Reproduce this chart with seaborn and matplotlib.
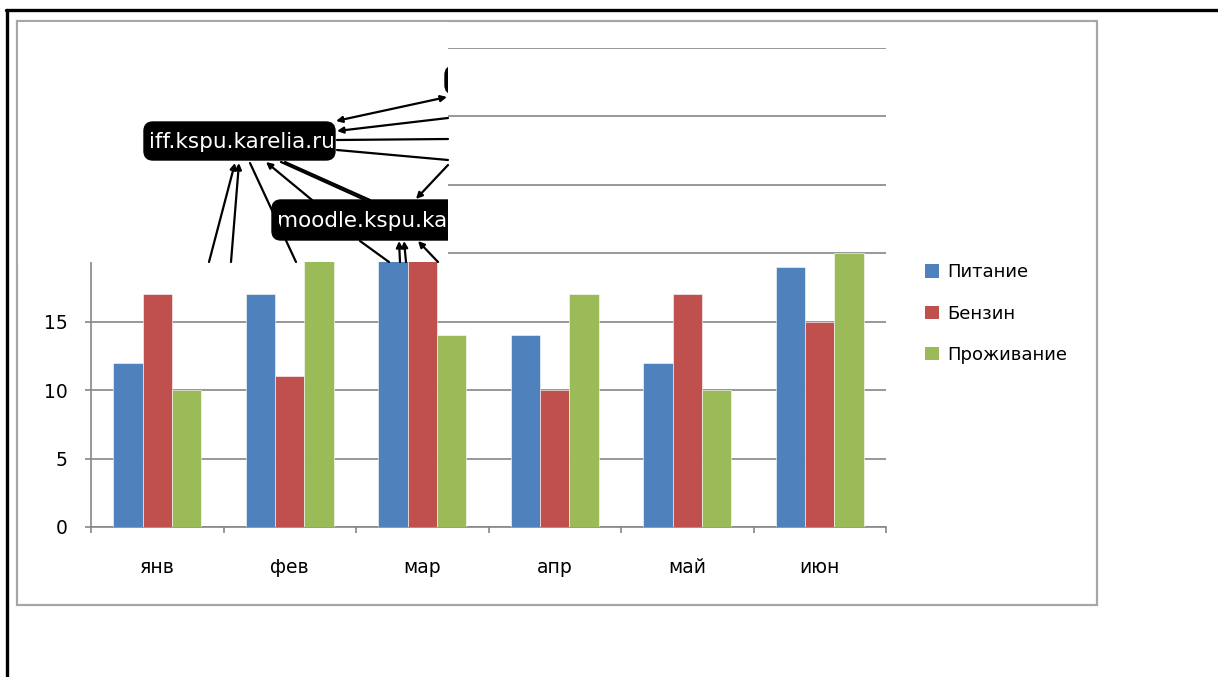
import numpy as np
import pandas as pd
import matplotlib
matplotlib.use("Agg")
import matplotlib.pyplot as plt
import seaborn as sns
from matplotlib.patches import Patch, Rectangle, FancyBboxPatch
from matplotlib.lines import Line2D

# chart data
months = ["янв", "фев", "мар", "апр", "май", "июн"]
series = ["Питание", "Бензин", "Проживание"]
pitanie = [12, 17, 22, 14, 12, 19]       # мар top hidden under the pasted picture
benzin = [17, 11, 21, 10, 17, 15]        # мар top hidden
prozhivanie = [10, 23, 14, 17, 10, 20]   # фев top hidden
colors = ["#4F81BD", "#C0504D", "#9BBB59"]
y_ticks = [0, 5, 10, 15, 20, 25, 30, 35]

df = pd.DataFrame({
    "month": months * 3,
    "series": [s for s in series for _ in months],
    "value": pitanie + benzin + prozhivanie,
})

W, H = 1218, 677
sns.set_style("white")
plt.rcParams["font.family"] = ["DejaVu Sans"]
plt.rcParams["text.color"] = "black"
plt.rcParams["xtick.color"] = "black"
plt.rcParams["ytick.color"] = "black"

fig = plt.figure(figsize=(W / 100, H / 100), dpi=100)

def fx(px):
    return px / W

def fy(py):
    return 1 - py / H

# outer black border (top and left) and grey chart frame
fig.add_artist(Line2D([fx(6), fx(W)], [fy(9.5), fy(9.5)], color="black", lw=2.4))
fig.add_artist(Line2D([fx(6.5), fx(6.5)], [fy(9.5), fy(H)], color="black", lw=2.4))
fig.add_artist(Rectangle((fx(17), fy(605)), fx(1097) - fx(17), fy(20.5) - fy(605),
                         fill=False, edgecolor="#A6A6A6", lw=1.6))

# main bar chart
ax = fig.add_axes([fx(91), fy(527), fx(886) - fx(91), fy(48) - fy(527)])
sns.barplot(data=df, x="month", y="value", hue="series", palette=colors,
            width=0.667, saturation=1, ax=ax, legend=False, zorder=3)
for p in ax.patches:
    p.set_edgecolor("white")
    p.set_linewidth(0.4)

ax.set_ylim(0, 35)
ax.set_xlim(-0.5, 5.5)
ax.set_yticks(y_ticks)
ax.yaxis.grid(True, color="#868686", lw=1.2, zorder=0)
ax.set_axisbelow(True)
ax.set_xlabel("")
ax.set_ylabel("")
for s in ["top", "right"]:
    ax.spines[s].set_visible(False)
for s in ["left", "bottom"]:
    ax.spines[s].set_color("#868686")
    ax.spines[s].set_linewidth(1.2)
ax.tick_params(axis="y", left=True, length=4, color="#868686", width=1.2,
               pad=13, labelsize=13.5, labelcolor="black")
ax.tick_params(axis="x", which="major", length=0, pad=22, labelsize=13.5,
               labelcolor="black")
ax.set_xticks(np.arange(-0.5, 6, 1), minor=True)
ax.tick_params(axis="x", which="minor", bottom=True, length=4, color="#868686", width=1.2)

# legend
handles = [Patch(facecolor=c, edgecolor="none") for c in colors]
fig.legend(handles, series, loc="upper left", bbox_to_anchor=(fx(918), fy(256)),
           frameon=False, fontsize=13, handlelength=0.75, handleheight=0.75,
           handletextpad=0.45, labelspacing=1.3, borderaxespad=0,
           labelcolor="black")

# pasted network picture over the upper left corner
ov = fig.add_axes([fx(18), fy(262), fx(448) - fx(18), fy(22) - fy(262)])
ov.set_zorder(10)
ov.set_xlim(18, 448)
ov.set_ylim(262, 22)
ov.set_facecolor("white")
ov.set_xticks([])
ov.set_yticks([])
for s in ov.spines.values():
    s.set_visible(False)

nodes = [
    ("iff.kspu.karelia.ru", 144, 122, 191, 38),
    ("moodle.kspu.karelia.ru", 272, 200, 240, 40),
    ("", 445, 66, 80, 28),
]
for label, x0, y0, w, h in nodes:
    box = FancyBboxPatch((x0 + 9, y0 + 9), w - 18, h - 18,
                         boxstyle="round,pad=9", fc="black", ec="black")
    ov.add_patch(box)
    if label:
        ov.text(x0 + 5, y0 + h / 2 + 1, label, color="white", fontsize=15.5,
                ha="left", va="center", clip_on=True)

edges = [
    ((447, 97), (336, 121), "<|-|>"),
    ((448, 118), (337, 131), "-|>"),
    ((448, 139), (337, 140), "-"),
    ((448, 160), (337, 150), "-"),
    ((448, 165), (416, 199), "-|>"),
    ((281, 162), (365, 200), "-"),
    ((285, 162), (370, 200), "-"),
    ((312, 200), (266, 162), "-|>"),
    ((250, 163), (296, 262), "-"),
    ((209, 262), (235, 163), "-|>"),
    ((231, 262), (239, 163), "-|>"),
    ((360, 241), (389, 262), "-"),
    ((400, 262), (399, 241), "-|>"),
    ((406, 262), (404, 241), "-|>"),
    ((438, 262), (418, 241), "-|>"),
]
for (x1, y1), (x2, y2), style in edges:
    ov.annotate("", xy=(x2, y2), xytext=(x1, y1),
                arrowprops=dict(arrowstyle=style, color="black", lw=1.6,
                                mutation_scale=9, shrinkA=0, shrinkB=0))

fig.savefig("out.png", dpi=100)
